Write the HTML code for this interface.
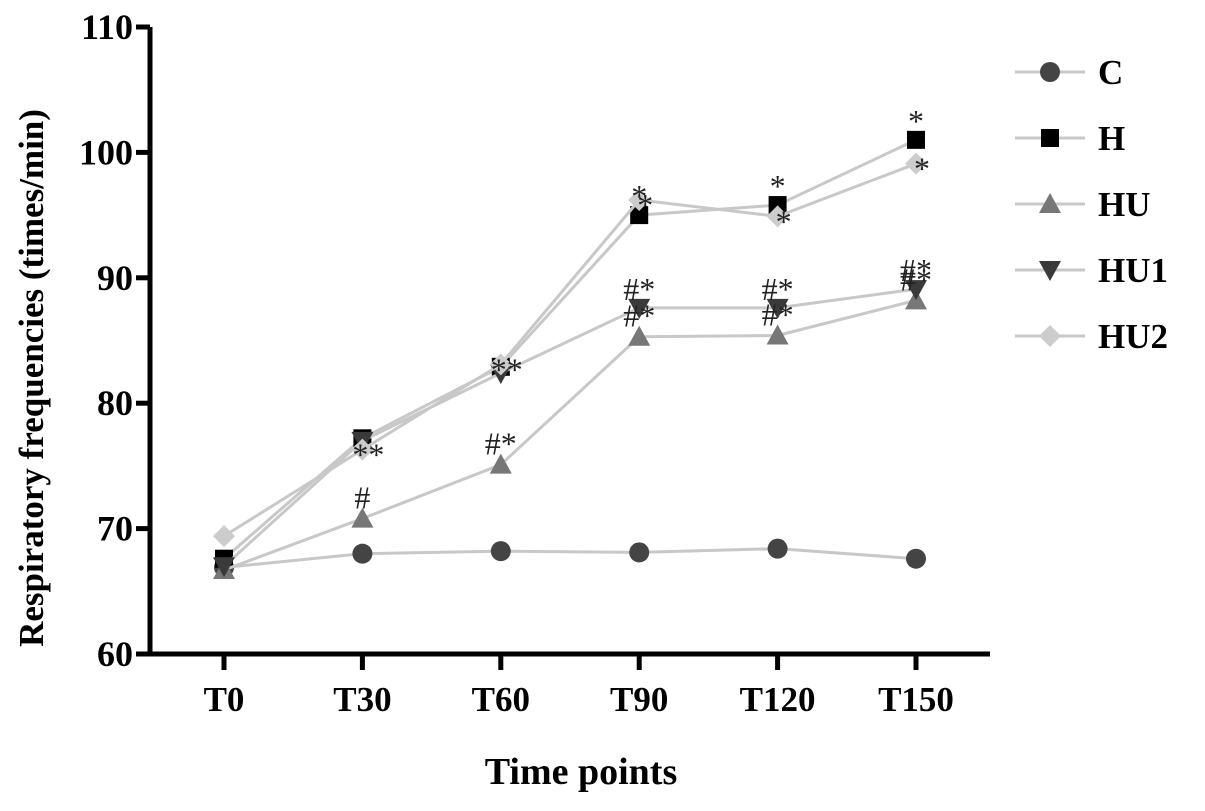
<!DOCTYPE html>
<html><head><meta charset="utf-8"><style>
body{margin:0;background:#fff}
svg text{font-family:"Liberation Serif",serif;font-weight:bold}
</style></head><body>
<svg id="chart" width="1205" height="806"></svg>
<script>
const categories=["T0","T30","T60","T90","T120","T150"];
const seriesNames=["C","H","HU","HU1","HU2"];
const valuesC=[66.9,68.0,68.2,68.1,68.4,67.6];
const valuesH=[67.6,77.2,82.9,95.0,95.8,101.0];
const valuesHU=[66.7,70.8,75.1,85.3,85.4,88.2];
const valuesHU1=[67.0,77.0,82.4,87.6,87.6,89.1];
const valuesHU2=[69.4,76.3,83.1,96.2,94.9,99.1];
const yTicks=[60,70,80,90,100,110];
const annH=["","","","*","*","*"];
const annHU2=["","**","**","*","*","*"];
const annHU=["","#","#*","#*","#*","#*"];
const annHU1=["","","","#*","#*","#*"];
const NS="http://www.w3.org/2000/svg";
const svg=document.getElementById('chart');
function el(t,a,p){const e=document.createElementNS(NS,t);for(const k in a)e.setAttribute(k,a[k]);(p||svg).appendChild(e);return e;}
const x0=224,dx=138.4;
function xs(i){return x0+i*dx;}
function ys(v){return 654-(v-60)*12.54;}
let a=el('line',{x1:150,y1:27,x2:150,y2:656,stroke:'#000','stroke-width':5});

a=el('line',{x1:148,y1:654,x2:990,y2:654,stroke:'#000','stroke-width':5});

yTicks.forEach(v=>{
 let t=el('line',{x1:136,y1:ys(v),x2:150,y2:ys(v),stroke:'#000','stroke-width':5});
 
 let l=el('text',{x:133,y:ys(v)+12,'text-anchor':'end','font-size':36});l.textContent=v;
 
});
categories.forEach((c,i)=>{
 let t=el('line',{x1:xs(i),y1:654,x2:xs(i),y2:670,stroke:'#000','stroke-width':5});
 
 let l=el('text',{x:xs(i),y:711,'text-anchor':'middle','font-size':35});l.textContent=c;
 
});
let tt=el('text',{x:581,y:784,'text-anchor':'middle','font-size':38});tt.textContent='Time points';

tt=el('text',{x:0,y:0,'text-anchor':'middle','font-size':35,transform:'translate(43,378) rotate(-90)'});tt.textContent='Respiratory frequencies (times/min)';

const styles=[{m:'circle',c:'#444'},{m:'square',c:'#000'},{m:'tri',c:'#777'},{m:'itri',c:'#3a3a3a'},{m:'diamond',c:'#ccc'}];
function marker(m,c,x,y,g){
 if(m==='circle')return el('circle',{cx:x,cy:y,r:10,fill:c},g);
 if(m==='square')return el('rect',{x:x-9,y:y-9,width:18,height:18,fill:c},g);
 if(m==='tri')return el('polygon',{points:`${x},${y-11} ${x+11},${y+9} ${x-11},${y+9}`,fill:c},g);
 if(m==='itri')return el('polygon',{points:`${x},${y+11} ${x+11},${y-9} ${x-11},${y-9}`,fill:c},g);
 return el('polygon',{points:`${x},${y-11} ${x+11},${y} ${x},${y+11} ${x-11},${y}`,fill:c},g);
}
const allVals=[valuesC,valuesH,valuesHU,valuesHU1,valuesHU2];
allVals.forEach((vals,s)=>{
 const g=el('g',{});
 
 
 const p=el('polyline',{points:vals.map((v,i)=>xs(i)+','+ys(v)).join(' '),fill:'none',stroke:'#c8c8c8','stroke-width':3},g);
 
 vals.forEach((v,i)=>{const m=marker(styles[s].m,styles[s].c,xs(i),ys(v),g);
  
  });
});
function ann(arr,vals,dxo,dyo){arr.forEach((s,i)=>{if(!s)return;
 const t=el('text',{x:xs(i)+dxo,y:ys(vals[i])+dyo,'text-anchor':'middle','font-size':32,fill:'#222'});
 t.style.fontWeight='normal';t.textContent=s;
 });}
ann(annH,valuesH,0,-8);
ann(annHU2,valuesHU2,6,16);
ann(annHU,valuesHU,0,-10);
ann(annHU1,valuesHU1,0,-8);
seriesNames.forEach((n,s)=>{
 const y=72+s*66;const g=el('g',{});
 
 el('line',{x1:1015,y1:y,x2:1085,y2:y,stroke:'#c8c8c8','stroke-width':3},g);
 marker(styles[s].m,styles[s].c,1050,y,g);
 const t=el('text',{x:1098,y:y+12,'font-size':35},g);t.textContent=n;
});
</script>
</body></html>
